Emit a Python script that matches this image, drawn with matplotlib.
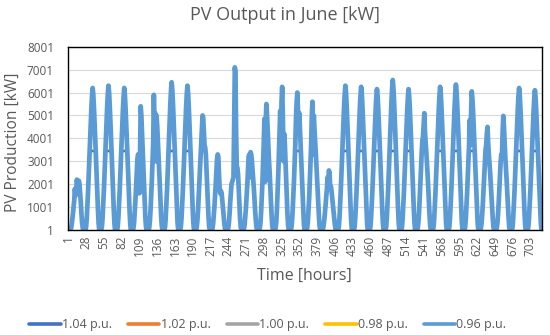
import numpy as np
import matplotlib
matplotlib.use("Agg")
import matplotlib.pyplot as plt

plt.rcParams['font.family'] = ['Open Sans', 'DejaVu Sans']

# Series names and colours (Excel default palette)
series_names = ['1.04 p.u.', '1.02 p.u.', '1.00 p.u.', '0.98 p.u.', '0.96 p.u.']
series_colors = ['#4472C4', '#ED7D31', '#A5A5A5', '#FFC000', '#5B9BD5']

# Output limit seen for each series [kW] (1.04 and 1.02 are flattened at the top)
cap_kw = [3450, 5100, 8001, 8001, 8001]

# Daylight hours of each day start at hour index 3 and last 20 hours
day_start = 3

# 0.96 p.u. output [kW] for the 20 daylight hours of each of the 30 days in June
day_kw = [
    [0, 50, 200, 450, 700, 1000, 1300, 1800, 1500, 1700, 2200, 2000, 1900, 2150, 2000, 1600, 1200, 700, 300, 80],
    [120, 500, 1050, 1670, 2360, 3100, 3840, 4590, 5270, 5830, 6200, 5890, 5330, 4650, 3910, 3160, 2420, 1670, 930, 310],
    [130, 500, 1070, 1700, 2390, 3150, 3910, 4660, 5360, 5920, 6300, 5990, 5420, 4730, 3970, 3210, 2460, 1700, 950, 320],
    [120, 490, 1050, 1660, 2350, 3090, 3830, 4570, 5260, 5810, 6200, 5880, 5320, 4640, 3900, 3150, 2410, 1660, 920, 300],
    [80, 350, 800, 1300, 1900, 2500, 3100, 3300, 3200, 1600, 3300, 5400, 5000, 4200, 3500, 2800, 2000, 1300, 600, 150],
    [100, 400, 900, 1500, 2200, 3000, 3800, 5900, 4600, 5100, 3000, 5000, 4600, 3900, 3300, 2700, 2000, 1300, 650, 200],
    [130, 520, 1100, 1740, 2450, 3230, 4000, 4770, 5480, 6060, 6450, 6130, 5550, 4840, 4060, 3290, 2520, 1740, 970, 320],
    [130, 500, 1070, 1700, 2390, 3150, 3910, 4660, 5360, 5920, 6300, 5990, 5420, 4730, 3970, 3210, 2460, 1700, 950, 320],
    [90, 360, 800, 1400, 2000, 2700, 3300, 3900, 4500, 5000, 4900, 4300, 3700, 3600, 3300, 2600, 1900, 1200, 600, 150],
    [60, 250, 600, 1000, 1500, 2000, 2600, 3100, 3300, 3200, 2400, 1800, 1600, 1700, 1600, 1300, 1000, 650, 300, 80],
    [80, 300, 700, 1200, 1600, 2000, 2100, 2200, 2300, 4500, 7100, 6900, 4200, 2800, 2700, 2400, 1800, 1100, 500, 120],
    [60, 250, 600, 1000, 1500, 2000, 2600, 3200, 3300, 2300, 3400, 3300, 3000, 2600, 2200, 1800, 1300, 800, 400, 100],
    [80, 300, 800, 1400, 2100, 2900, 3800, 4850, 2100, 4700, 5500, 5000, 4300, 3600, 3000, 2500, 1800, 1200, 600, 150],
    [80, 350, 900, 1600, 2400, 3300, 4200, 5200, 4000, 5600, 6250, 5000, 3000, 4200, 3800, 3000, 2200, 1400, 700, 200],
    [100, 400, 900, 1500, 2200, 3000, 3800, 4900, 5600, 6000, 5300, 4500, 5100, 4400, 3600, 2900, 2200, 1500, 800, 250],
    [90, 350, 850, 1400, 2100, 2900, 3700, 5000, 5600, 3300, 5000, 4400, 3900, 3400, 2800, 2200, 1600, 1000, 500, 120],
    [50, 200, 450, 750, 1100, 1500, 1800, 2300, 2000, 2600, 2500, 1800, 1900, 1700, 1400, 1100, 800, 500, 250, 60],
    [130, 500, 1070, 1700, 2390, 3150, 3910, 4660, 5360, 5920, 6300, 5990, 5420, 4730, 3970, 3210, 2460, 1700, 950, 320],
    [130, 500, 1060, 1690, 2380, 3130, 3880, 4630, 5310, 5880, 6250, 5940, 5380, 4690, 3940, 3190, 2440, 1690, 940, 310],
    [120, 490, 1050, 1660, 2340, 3080, 3810, 4550, 5230, 5780, 6150, 5840, 5290, 4610, 3870, 3140, 2400, 1660, 920, 310],
    [130, 520, 1110, 1770, 2490, 3280, 4060, 4850, 5570, 6160, 6550, 6220, 5630, 4910, 4130, 3340, 2550, 1770, 980, 330],
    [120, 490, 1050, 1660, 2340, 3080, 3810, 4550, 5230, 5780, 6150, 5840, 5290, 4610, 3870, 3140, 2400, 1660, 920, 310],
    [90, 350, 800, 1400, 2000, 2700, 3400, 3900, 4100, 4600, 5100, 4300, 3800, 3400, 2900, 2400, 1800, 1200, 600, 150],
    [130, 500, 1060, 1690, 2380, 3130, 3880, 4630, 5310, 5880, 6250, 5940, 5380, 4690, 3940, 3190, 2440, 1690, 940, 310],
    [130, 510, 1080, 1710, 2410, 3180, 3940, 4700, 5400, 5970, 6350, 6030, 5460, 4760, 4000, 3240, 2480, 1710, 950, 320],
    [120, 480, 1030, 1630, 2300, 3030, 3750, 4800, 3700, 5000, 6050, 5750, 5200, 4540, 3810, 3090, 2360, 1630, 910, 300],
    [80, 300, 700, 1200, 1800, 2400, 3000, 3500, 3700, 4200, 4500, 3800, 3300, 2900, 2500, 2000, 1500, 1000, 500, 120],
    [80, 300, 700, 1200, 1800, 2500, 3000, 3300, 3200, 4300, 4980, 4500, 3800, 3200, 2700, 2200, 1600, 1100, 550, 130],
    [120, 500, 1050, 1670, 2360, 3100, 3840, 4590, 5270, 5830, 6200, 5890, 5330, 4650, 3910, 3160, 2420, 1670, 930, 310],
    [120, 490, 1040, 1650, 2320, 3050, 3780, 4510, 5190, 5730, 6100, 5800, 5250, 4580, 3840, 3110, 2380, 1650, 920, 310],
]

y_ticks = list(range(1, 8002, 1000))
x_ticks = list(range(1, 721, 27))

# Build the hourly series (night hours are zero)
base = np.zeros((len(day_kw), 24))
for d, row in enumerate(day_kw):
    base[d, day_start:day_start + len(row)] = row
base = base.ravel()
hours = np.arange(1, len(base) + 1)

# Create figure
fig = plt.figure(figsize=(5.5, 3.35), dpi=100)
ax = fig.add_axes([0.1236, 0.3134, 0.8615, 0.5472])

# Lower series drawn thinner so they stay hidden under the 0.96 line where equal
for i, (name, color, cap) in enumerate(zip(series_names, series_colors, cap_kw)):
    lw = 3.4 if i == len(series_names) - 1 else 1.9
    ax.plot(hours, np.minimum(base, cap), color=color, lw=lw, label=name,
            solid_joinstyle='round', solid_capstyle='round')

# Axes styling
ax.set_xlim(0.5, 720.5)
ax.set_ylim(1, 8001)
ax.set_yticks(y_ticks)
ax.set_xticks(x_ticks)
ax.grid(axis='y', color='#D9D9D9', lw=0.8)
ax.set_axisbelow(True)
ax.tick_params(axis='x', rotation=90, length=0, labelsize=8.5, colors='#595959', pad=4)
ax.tick_params(axis='y', length=0, labelsize=8.5, colors='#595959', pad=10)
for s in ax.spines.values():
    s.set_color('black')
    s.set_linewidth(1)

# Titles
fig.text(0.518, 0.955, 'PV Output in June [kW]', ha='center', va='center',
         fontsize=13, color='#595959')
fig.text(0.553, 0.176, 'Time [hours]', ha='center', va='center',
         fontsize=11.5, color='#595959')
fig.text(0.023, 0.575, 'PV Production [kW]', ha='center', va='center',
         rotation=90, fontsize=11.2, color='#595959')

# Legend
leg = fig.legend(loc='center', bbox_to_anchor=(0.487, 0.03), ncol=5, frameon=False,
                 fontsize=9, handlelength=2.5, columnspacing=1.3, handletextpad=0.1,
                 labelcolor='#595959')
for h in leg.legend_handles:
    h.set_linewidth(2.6)

fig.savefig('out.png', dpi=100)
